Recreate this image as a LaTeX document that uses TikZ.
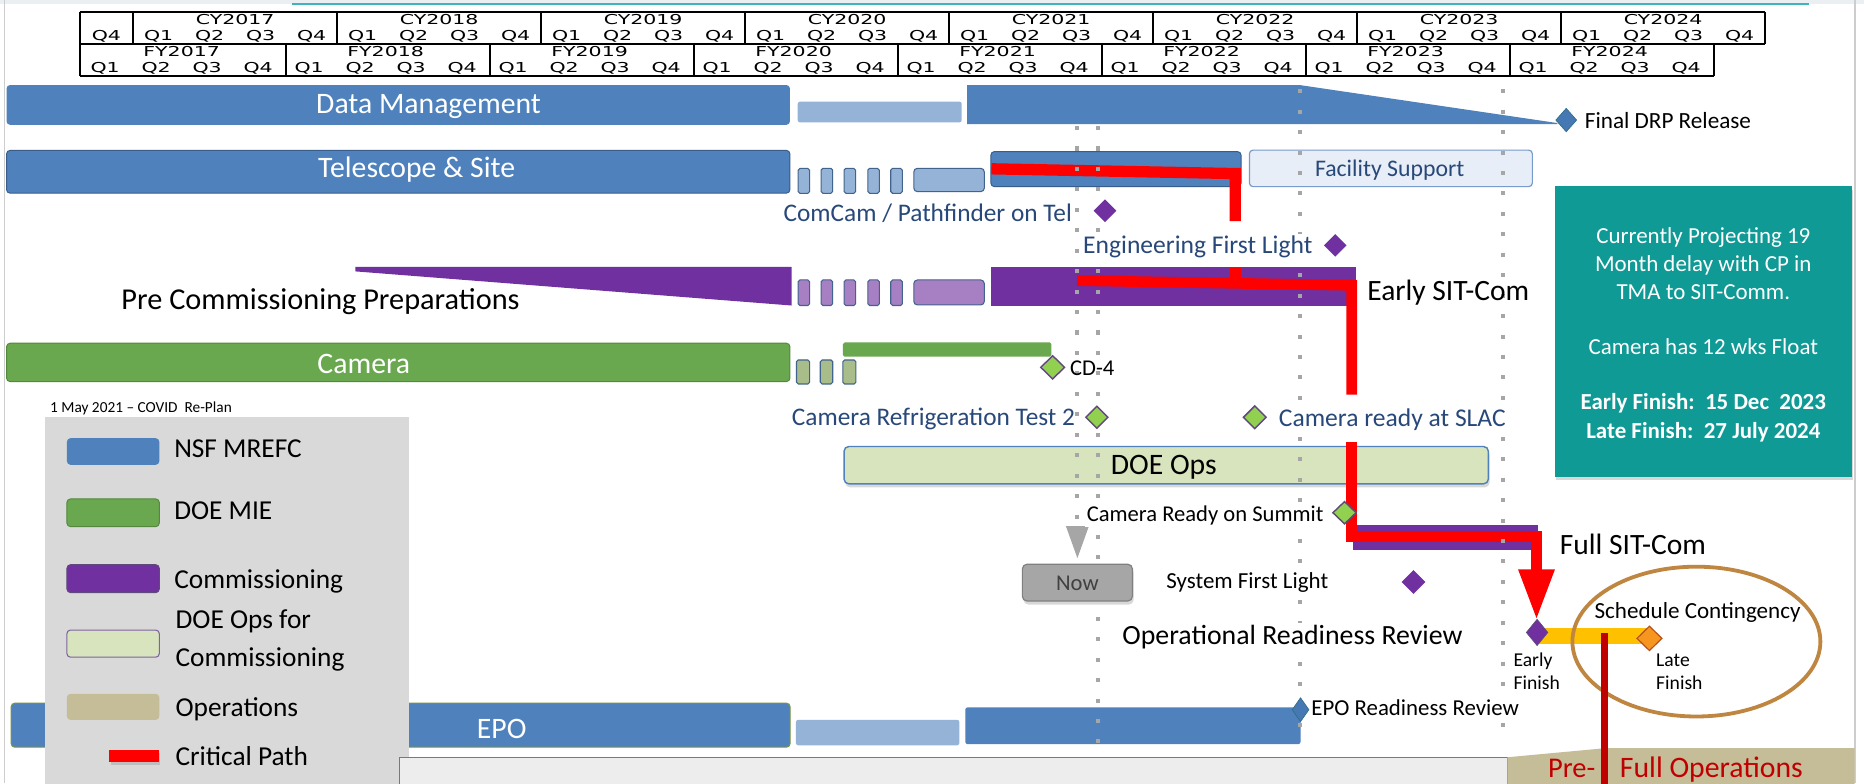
\documentclass[tikz,border=0pt]{standalone}
\usepackage{graphicx}
\usepackage{fontspec}
\setmainfont{Carlito}
\newfontfamily\hdrfont{DejaVu Sans}
\usetikzlibrary{shadows}
\definecolor{nsfblue}{RGB}{79,129,189}
\definecolor{nsfdark}{RGB}{56,93,138}
\definecolor{ltblue}{RGB}{149,179,215}
\definecolor{purp}{RGB}{112,48,160}
\definecolor{ltpurp}{RGB}{167,128,196}
\definecolor{camgreen}{RGB}{106,168,79}
\definecolor{camdark}{RGB}{84,136,60}
\definecolor{olive}{RGB}{168,189,137}
\definecolor{doeops}{RGB}{215,228,189}
\definecolor{msgreen}{RGB}{146,208,80}
\definecolor{msborder}{RGB}{96,74,123}
\definecolor{tealbox}{RGB}{16,154,150}
\definecolor{tanop}{RGB}{196,189,151}
\definecolor{leggray}{RGB}{217,217,217}
\definecolor{cpred}{RGB}{255,0,0}
\definecolor{darkred}{RGB}{192,0,0}
\definecolor{amber}{RGB}{255,192,0}
\definecolor{orangedia}{RGB}{247,150,30}
\definecolor{orangeborder}{RGB}{180,80,40}
\definecolor{ellbrown}{RGB}{191,134,66}
\definecolor{labblue}{RGB}{40,72,122}
\definecolor{dotgray}{RGB}{166,166,166}
\definecolor{nowgray}{RGB}{166,166,166}
\definecolor{nowborder}{RGB}{128,128,128}
\definecolor{nowtext}{RGB}{64,64,64}
\definecolor{slate}{RGB}{65,100,140}
\definecolor{epoborder}{RGB}{120,150,70}
\definecolor{facfill}{RGB}{232,238,247}
\definecolor{facborder}{RGB}{120,155,205}
\definecolor{boxgray}{RGB}{237,237,237}
\definecolor{topline}{RGB}{64,180,190}
\definecolor{topband}{RGB}{236,239,242}
\definecolor{edgegray}{RGB}{205,205,205}
\definecolor{dmdblue}{RGB}{70,120,180}
\definecolor{dmdborder}{RGB}{50,110,140}
\definecolor{opsborder}{RGB}{128,100,162}
\newcommand{\myfs}[1]{\fontsize{#1}{#1}\selectfont}
\newcommand{\hs}[1]{\scalebox{1.5}[1]{#1}}
\newcommand{\dmd}[5]{\path[#1] (#2-#4/2,#3) -- (#2,#3-#5/2) -- (#2+#4/2,#3) -- (#2,#3+#5/2) -- cycle;}
\begin{document}
\begin{tikzpicture}[x=1pt,y=-1pt,
  hdr/.style={inner sep=0, font=\hdrfont\myfs{11.5}},
  hline/.style={line width=1.8pt, black},
  labw/.style={inner sep=0, anchor=base west},
  labc/.style={inner sep=0, anchor=base},
  opaque/.style={fill=white, inner sep=1.5pt},
  dotv/.style={dotgray, line width=3.4pt, dash pattern=on 3.4pt off 13.8pt},
  cp/.style={cpred, line width=9pt},
  shad/.style={drop shadow={shadow xshift=1pt, shadow yshift=-3pt, opacity=0.3}},
  ]
\useasboundingbox (0,0) rectangle (1568,659);
\fill[white] (0,0) rectangle (1568,659);
% page frame
\fill[topband] (0,0) rectangle (1568,3);
\draw[topline, line width=1.2pt] (246,3.2) -- (1522,3.2);
\draw[edgegray, line width=1.2pt] (3.7,0) -- (3.7,659);
\draw[edgegray, line width=1.2pt] (1560.5,0) -- (1560.5,659);

% ---------- header ----------
\draw[hline] (67,10) -- (1484.8,10);
\draw[hline] (67,37) -- (1484.8,37);
\draw[hline] (67,64) -- (1441.8,64);
\foreach \x in {67,112,283.6,455.2,626.8,798.4,970,1141.6,1313.2,1484.8} \draw[hline] (\x,10) -- (\x,37);
\foreach \x in {67,240.6,412.2,583.8,755.4,927,1098.6,1270.2,1441.8} \draw[hline] (\x,37) -- (\x,64);
\node[hdr] (cyq0) at (89.5,30.8) {\hs{Q4}};
\foreach \i in {0,...,7}{
  \pgfmathsetmacro{\xs}{112+171.6*\i}
  \pgfmathtruncatemacro{\yr}{2017+\i}
  \node[hdr] (cy\i) at (\xs+85.8,16.8) {\hs{CY\yr}};
  \foreach \q in {1,2,3,4}{
    \node[hdr] (cyq\i\q) at (\xs+42.9*\q-21.45,30.8) {\hs{Q\q}};
  }
  \pgfmathsetmacro{\xf}{67+171.6*\i}
  \node[hdr] (fy\i) at (\xf+85.8,43.4) {\hs{FY\yr}};
  \foreach \q in {1,2,3,4}{
    \node[hdr] (fyq\i\q) at (\xf+42.9*\q-21.45,57.4) {\hs{Q\q}};
  }
}

% ---------- Data Management ----------
\fill[nsfblue, rounded corners=3] (5.5,71.5) rectangle (664.5,105);
\fill[ltblue, rounded corners=2] (671,85.5) rectangle (809,103);
\fill[nsfblue] (1093,71.5) -- (1310,103.5) -- (1310,104.5) -- (813.6,104.5) -- (813.6,71.5) -- cycle;

% ---------- Telescope & Site ----------
\filldraw[fill=nsfblue, draw=nsfdark, line width=0.8pt, rounded corners=3] (5.5,126.5) rectangle (664.5,162.5);
\foreach \a/\b in {671.4/681,690.7/700.4,710/719.7,730/739.7,749.3/759}
  \filldraw[fill=ltblue, draw=slate, line width=0.9pt, rounded corners=1.5] (\a,141.6) rectangle (\b,162.6);
\filldraw[fill=ltblue, draw=slate, line width=0.9pt, rounded corners=3] (768.7,141.6) rectangle (828,161.2);
\filldraw[fill=nsfblue, draw=nsfdark, line width=0.8pt, rounded corners=3] (833.5,127.5) rectangle (1044,157);
\filldraw[fill=facfill, draw=facborder, line width=1pt, rounded corners=3] (1051,126.3) rectangle (1289,157);

% ---------- teal info box ----------
\fill[tealbox, shad] (1308,156.5) rectangle (1557.5,401);

% ---------- Pre-commissioning ----------
\fill[purp] (299,224.5) -- (666,224.5) -- (666,257) -- (299,228.3) -- cycle;
\foreach \a/\b in {671.4/681,690.7/700.4,710/719.7,730/739.7,749.3/759}
  \filldraw[fill=ltpurp, draw=slate, line width=0.9pt, rounded corners=1.5] (\a,235.5) rectangle (\b,257);
\filldraw[fill=ltpurp, draw=slate, line width=0.9pt, rounded corners=3] (768.7,235.5) rectangle (828,256.5);
\fill[purp] (833.5,224.5) rectangle (1140.5,257);

% ---------- Camera ----------
\filldraw[fill=camgreen, draw=camdark, line width=0.8pt, rounded corners=3] (5.5,288.7) rectangle (664.5,321);
\foreach \a/\b in {670/681,690/700.5,709/720}
  \filldraw[fill=olive, draw=slate, line width=0.9pt, rounded corners=1.5] (\a,302.8) rectangle (\b,323);
\fill[camgreen, rounded corners=1.5] (709,288) rectangle (884.5,300);

% ---------- EPO ----------
\filldraw[fill=nsfblue, draw=epoborder, line width=0.9pt, rounded corners=3] (9.4,591.5) rectangle (664.6,628.5);
\fill[ltblue, rounded corners=2] (669.5,605.5) rectangle (807,627);
\fill[nsfblue, rounded corners=2] (812,595) rectangle (1094,626);

% ---------- legend ----------
\fill[leggray] (38,350.5) rectangle (344,660);
\fill[nsfblue, rounded corners=3] (56.3,368.6) rectangle (134,391);
\filldraw[fill=camgreen, draw=camdark, line width=0.8pt, rounded corners=3] (56.3,419.7) rectangle (134,443);
\filldraw[fill=purp, draw=msborder, line width=0.8pt, rounded corners=3] (56.3,475) rectangle (134,498.5);
\filldraw[fill=doeops, draw=opsborder, line width=0.9pt, rounded corners=3] (56.3,530) rectangle (134,552.8);
\fill[tanop, rounded corners=3] (56.3,583.7) rectangle (134,605.6);
\fill[cpred, shad] (92,630.8) rectangle (134,640.6);

% ---------- DOE Ops ----------
\filldraw[fill=doeops, draw=nsfblue, line width=1.2pt, rounded corners=4, shad] (710,375.6) rectangle (1252,407);

% ---------- Full SIT-Com / contingency ----------
\fill[purp] (1138,441.5) rectangle (1294,462.5);
\fill[amber] (1295,528) rectangle (1390,542);

% ---------- bottom ----------
\filldraw[fill=boxgray, draw=nsfblue, line width=0.8pt] (336,665) -- (336,637) -- (1268,637) -- (1268,665);
\fill[tanop] (1268,637) -- (1350,629.4) -- (1560,629.4) -- (1560,660) -- (1268,660) -- cycle;

% ---------- critical path ----------
\coordinate (c1a) at (834,142);
\coordinate (c1b) at (1039,146);
\coordinate (c1c) at (1039,186);
\coordinate (c2s) at (1039,225.5);
\coordinate (c2t) at (1039,237);
\coordinate (c2a) at (906,236);
\coordinate (c2b) at (1137,240);
\coordinate (c2c) at (1137,332);
\coordinate (c3a) at (1137,371.5);
\coordinate (c3b) at (1137,451.5);
\coordinate (c3c) at (1292.5,451.5);
\coordinate (c3d) at (1292.5,480);
\draw[cp, line width=9.5pt] (c1a) -- (c1b) -- (c1c);
\draw[cp] (c2s) -- (c2t);
\draw[cp] (c2a) -- (c2b) -- (c2c);
\draw[cp] (c3a) -- (c3b) -- (c3c) -- (c3d);
\fill[cpred] (1277,479) -- (1308,479) -- (1292.5,520) -- cycle;

% ---------- dotted date lines ----------
\draw[dotv] (906,106) -- (906,442);
\draw[dotv] (923.4,106) -- (923.4,628);
\draw[dotv] (1093.7,75) -- (1093.7,625);
\draw[dotv] (1264,75) -- (1264,622);

% ---------- Now marker ----------
\fill[nowgray] (896.6,442.5) -- (916,442.5) -- (906.3,469.5) -- cycle;
\filldraw[fill=nowgray, draw=nowborder, line width=1pt, rounded corners=4, shad] (860,474.6) rectangle (952.6,505.6);

% ---------- ellipse & contingency ----------
\draw[ellbrown, line width=3.2pt] (1427,539.7) ellipse [x radius=104.3, y radius=63];
\draw[darkred, line width=5.5pt] (1349.5,532.5) -- (1349.5,660);

% ---------- milestones ----------
\dmd{fill=dmdblue, draw=dmdborder, line width=0.6pt}{1317.5}{101}{17.4}{19.6}
\dmd{fill=purp}{929.5}{177.3}{19}{19}
\dmd{fill=purp}{1123.2}{206.4}{19}{19}
\dmd{fill=msgreen, draw=msborder, line width=1.2pt}{885.5}{309}{20}{19.5}
\dmd{fill=msgreen, draw=msborder, line width=1.2pt}{922.7}{351}{18.5}{18.5}
\dmd{fill=msgreen, draw=msborder, line width=1.2pt}{1055.5}{351}{19}{19}
\dmd{fill=msgreen, draw=msborder, line width=1.2pt}{1131}{431.3}{19.5}{18.7}
\dmd{fill=purp}{1189}{489.5}{20}{20}
\dmd{fill=purp, draw=msborder, line width=0.6pt}{1293}{532}{18}{22}
\dmd{fill=orangedia, draw=orangeborder, line width=1pt}{1387.5}{537}{21}{20.5}
\dmd{fill=dmdblue, draw=dmdborder, line width=0.6pt}{1094}{597}{14}{20}

% ---------- texts ----------
\node[labc, text=white, font=\myfs{25}] (dmtxt) at (360.5,95.5) {Data Management};
\node[labc, text=white, font=\myfs{25}] (tstxt) at (350.5,149) {Telescope \& Site};
\node[labc, text=labblue, font=\myfs{20}] (factxt) at (1169,148.6) {Facility Support};
\node[labw, font=\myfs{19.5}] (drptxt) at (1333,108) {Final DRP Release};
\node[labw, text=labblue, font=\myfs{21.3}] (comcam) at (659,186.4) {ComCam / Pathfinder on Tel};
\node[labw, opaque, text=labblue, font=\myfs{21.5}] (eng) at (909.5,213.6) {Engineering First Light};
\node[labw, font=\myfs{24.8}] (early) at (1150,253) {Early SIT-Com};
\node[labw, font=\myfs{25.5}] (precomm) at (102,260) {Pre Commissioning Preparations};
\node[labc, text=white, font=\myfs{25}] (camtxt) at (306,314) {Camera};
\node[labw, font=\myfs{19}] (cd4) at (900,316) {CD-4};
\node[labw, font=\myfs{12.9}] (covid) at (42,347) {1 May 2021 – COVID\ \ Re-Plan};
\node[labw, font=\myfs{23}] (lg1) at (146.4,384.6) {NSF MREFC};
\node[labw, font=\myfs{23}] (lg2) at (146.4,436.8) {DOE MIE};
\node[labw, font=\myfs{23}] (lg3) at (146.4,495) {Commissioning};
\node[labw, font=\myfs{23}] (lg4a) at (147.5,529) {DOE Ops for};
\node[labw, font=\myfs{23}] (lg4b) at (147.5,560.5) {Commissioning};
\node[labw, font=\myfs{23}] (lg5) at (147.5,603) {Operations};
\node[labw, font=\myfs{23}] (lg6) at (147.5,644) {Critical Path};
\node[labw, text=labblue, font=\myfs{21.3}] (crt2) at (666,358.3) {Camera Refrigeration Test 2};
\node[labw, opaque, text=labblue, font=\myfs{21.5}] (slac) at (1074.1,358.5) {Camera ready at SLAC};
\node[labc, font=\myfs{25}] (doetxt) at (979,399.5) {DOE Ops};
\node[labw, opaque, font=\myfs{19}] (summit) at (912.5,439) {Camera Ready on Summit};
\node[labc, text=nowtext, font=\myfs{19}] (nowtxt) at (906.3,496.7) {Now};
\node[labw, opaque, font=\myfs{19.3}] (sfl) at (979.5,494.8) {System First Light};
\node[labw, opaque, font=\myfs{23.4}] (orr) at (942.5,542) {Operational Readiness Review};
\node[labc, text=white, font=\myfs{25}] (epotxt) at (422,621) {EPO};
\node[labw, opaque, font=\myfs{19.2}] (eporr) at (1101.5,602) {EPO Readiness Review};
\node[labw, font=\myfs{24.8}] (fullsit) at (1312,466.8) {Full SIT-Com};
\node[labc, font=\myfs{19.4}] (schcont) at (1428,520.6) {Schedule Contingency};
\node[labw, font=\myfs{16.5}] (ef1) at (1273,560.6) {Early};
\node[labw, font=\myfs{16.5}] (ef2) at (1273,580) {Finish};
\node[labw, font=\myfs{16.5}] (lf1) at (1393,560.6) {Late};
\node[labw, font=\myfs{16.5}] (lf2) at (1393,580) {Finish};
\node[labc, text=white, font=\myfs{19.3}] (tb1) at (1432.8,205.2) {Currently Projecting 19};
\node[labc, text=white, font=\myfs{19.3}] (tb2) at (1432.8,228.7) {Month delay with CP in};
\node[labc, text=white, font=\myfs{19.3}] (tb3) at (1432.8,251.7) {TMA to SIT-Comm.};
\node[labc, text=white, font=\myfs{19.3}] (tb4) at (1432.8,298.6) {Camera has 12 wks Float};
\node[labc, text=white, font=\bfseries\myfs{19.3}] (tb5) at (1432.8,344.8) {Early Finish:\ \ 15 Dec\ \ 2023};
\node[labc, text=white, font=\bfseries\myfs{19.3}] (tb6) at (1432.8,368.6) {Late Finish:\ \ 27 July 2024};
\node[labw, text=darkred, font=\myfs{24}] (pre) at (1302,653.7) {Pre-};
\node[labw, text=darkred, font=\myfs{25}] (fullops) at (1362.5,653.7) {Full Operations};
\end{tikzpicture}
\end{document}
